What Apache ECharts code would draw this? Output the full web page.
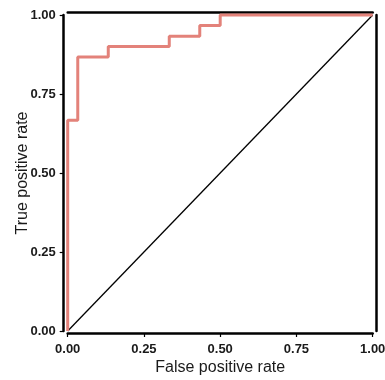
<!DOCTYPE html>
<html>
<head>
<meta charset="utf-8">
<script src="https://cdn.jsdelivr.net/npm/echarts@6/dist/echarts.min.js"></script>
<style>
  html, body { margin: 0; padding: 0; background: #fff; }
  #chart { width: 385px; height: 380px; }
</style>
</head>
<body>
<div id="chart"></div>
<script>
// ROC curve (steps of 1/30)
const fpr = [0, 0, 0.033, 0.033, 0.133, 0.133, 0.333, 0.333, 0.433, 0.433, 0.5, 0.5, 1];
const tpr = [0, 0.667, 0.667, 0.867, 0.867, 0.9, 0.9, 0.933, 0.933, 0.967, 0.967, 1, 1];
const diagonal = [0, 1];
const tickLabels = ['0.00', '0.25', '0.50', '0.75', '1.00'];

const chart = echarts.init(document.getElementById('chart'));

const labelStyle = {
  color: '#1a1a1a',
  fontFamily: 'Liberation Sans, Arial, sans-serif',
  fontWeight: 'bold',
  fontSize: 13,
  formatter: v => tickLabels[Math.round(v * 4)]
};
const nameStyle = {
  color: '#1a1a1a',
  fontFamily: 'Liberation Sans, Arial, sans-serif',
  fontSize: 16
};
const frameLine = { show: true, onZero: false, lineStyle: { color: '#000', width: 2.5 } };

const option = {
  animation: false,
  grid: {
    left: 67.7, right: 12.3, top: 15, bottom: 49,
    containLabel: false, outerBoundsMode: 'none'
  },
  xAxis: [
    {
      type: 'value', min: 0, max: 1, interval: 0.25,
      position: 'bottom', offset: 2,
      name: 'False positive rate', nameLocation: 'middle', nameGap: 27,
      nameMoveOverlap: false,
      nameTextStyle: nameStyle,
      axisLine: frameLine,
      axisTick: { show: true, length: 4, lineStyle: { color: '#000', width: 1.2 } },
      axisLabel: Object.assign({ margin: 10 }, labelStyle),
      splitLine: { show: false }
    },
    {
      type: 'value', min: 0, max: 1, position: 'top', offset: 3,
      axisLine: frameLine, axisTick: { show: false }, axisLabel: { show: false },
      splitLine: { show: false }
    }
  ],
  yAxis: [
    {
      type: 'value', min: 0, max: 1, interval: 0.25,
      position: 'left', offset: 4,
      name: 'True positive rate', nameLocation: 'middle', nameGap: 33,
      nameMoveOverlap: false,
      nameTextStyle: nameStyle,
      axisLine: frameLine,
      axisTick: { show: true, length: 4, lineStyle: { color: '#000', width: 1.2 } },
      axisLabel: Object.assign({ margin: 8 }, labelStyle),
      splitLine: { show: false }
    },
    {
      type: 'value', min: 0, max: 1, position: 'right', offset: 4,
      axisLine: frameLine, axisTick: { show: false }, axisLabel: { show: false },
      splitLine: { show: false }
    }
  ],
  series: [
    {
      type: 'line',
      data: fpr.map((x, i) => [x, tpr[i]]),
      showSymbol: false,
      clip: false,
      lineStyle: { color: '#e3827a', width: 3 },
      z: 3
    },
    {
      type: 'line',
      data: diagonal.map(v => [v, v]),
      showSymbol: false,
      clip: false,
      lineStyle: { color: '#000', width: 1.3 },
      z: 2
    }
  ]
};

chart.setOption(option);
</script>
</body>
</html>
